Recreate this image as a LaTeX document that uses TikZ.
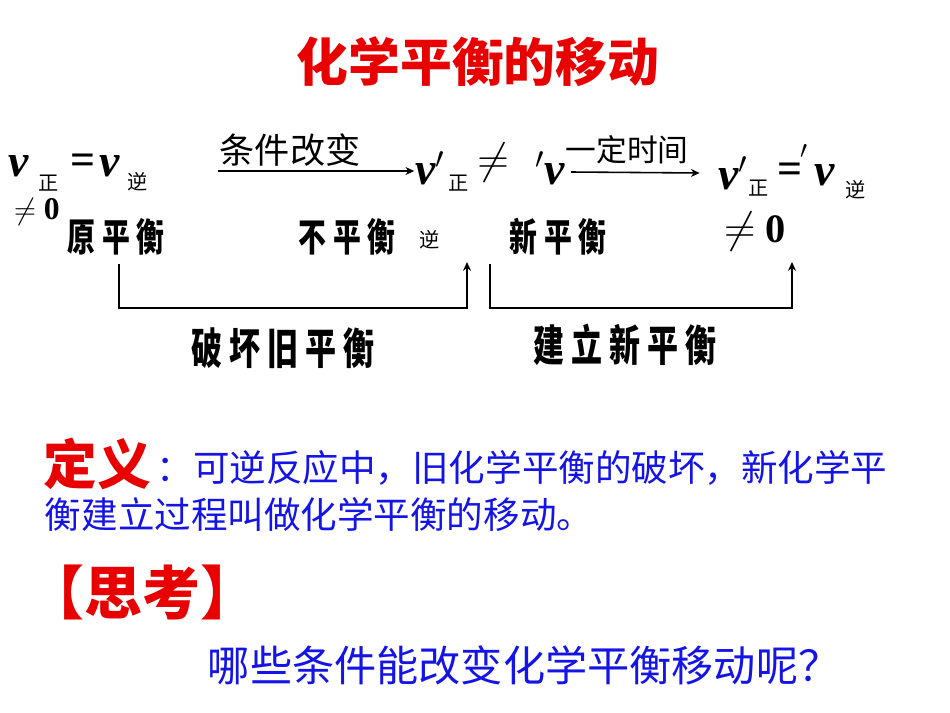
\documentclass[tikz,border=0pt]{standalone}
\usepackage{fontspec}
\setmainfont{Noto Sans CJK SC}
\newfontfamily\cjkn{Noto Sans CJK SC}[FakeStretch=0.72]
\newfontfamily\vfont{Liberation Serif}
\usetikzlibrary{arrows.meta, positioning}
\definecolor{cred}{HTML}{E80000}
\definecolor{cblue}{HTML}{1414E6}
\tikzset{
  every picture/.style={line width=1.1pt},
  title/.style={font=\fontsize{29.5}{32}\selectfont\bfseries, text=cred},
  vsym/.style={font=\vfont\fontsize{26}{28}\selectfont\bfseries\itshape, inner sep=0pt},
  sub/.style={font=\fontsize{11.5}{13}\selectfont, inner sep=0pt},
  rel/.style={font=\vfont\fontsize{18}{20}\selectfont\bfseries, inner sep=0pt},
  eqs/.style={font=\vfont\fontsize{25}{27}\selectfont\bfseries, inner sep=0pt},
  cond/.style={font=\fontsize{20}{22}\selectfont, inner sep=0pt},
  state/.style={font=\cjkn\fontsize{22}{24}\selectfont\bfseries, inner sep=0pt},
  phase/.style={font=\cjkn\fontsize{24.5}{26}\selectfont\bfseries, inner sep=0pt},
  defn/.style={font=\fontsize{20.8}{24}\selectfont, text=cblue, inner sep=0pt, anchor=west},
  arrow/.style={-{Stealth[length=5pt, width=4.5pt]}, line width=0.9pt},
  bracket/.style={-{Stealth[length=5pt, width=4.5pt]}, line width=1.2pt},
}

\begin{document}
\begin{tikzpicture}[x=0.02cm, y=-0.02cm]
  \useasboundingbox (0,0) rectangle (950,713);
  \node[title] (ttl) at (478,62) {化学平衡的移动};
  % first balance
  \node[vsym] (v1) at (19,166) {v};
  \node[sub] (z1) at (49,183) {正};
  \node[eqs] (eq1) at (83,164) {=};
  \node[vsym] (v2) at (110,166) {v};
  \node[sub] (n1) at (138,182) {逆};
  \node[rel] (ne1) at (37,212) {$\neq$ 0};
  \node[state] (old) at (116,237) {原 平 衡};
  % change of conditions
  \node[cond] (c1) at (290,150) {条件改变};
  \node[vsym] (v3) at (430,168) {v$'$};
  \node[sub] (z2) at (459,183) {正};
  \node[rel, font=\fontsize{26}{28}\selectfont] (ne2) at (493,163) {$\neq$};
  \node[vsym] (v4) at (550,168) {$'$v};
  \node[state] (mid) at (347,237) {不 平 衡};
  \node[sub] (n2) at (430,240) {逆};
  \coordinate (a1) at (218,171);
  \draw[arrow] (a1) -- (a1 -| v3.west);
  % new balance
  \node[cond, font=\fontsize{17.5}{20}\selectfont] (c2) at (627,150) {一定时间};
  \node[vsym] (v5) at (733,173) {v$'$};
  \node[sub] (z3) at (759,188) {正};
  \node[eqs] (eq3) at (790,173) {=};
  \node[rel, font=\fontsize{22}{24}\selectfont] (pr) at (804,158) {$'$};
  \node[vsym] (v6) at (825,175) {v};
  \node[sub] (n3) at (856,190) {逆};
  \node[rel, font=\vfont\fontsize{23}{25}\selectfont\bfseries] (ne3) at (755,232) {$\neq$ 0};
  \node[state] (new) at (558,237) {新 平 衡};
  \coordinate (a2) at (571,172);
  \draw[arrow] (a2) -- ([xshift=-10pt]v5.west);
  % brackets
  \coordinate (b1) at (119,264);
  \coordinate (m1) at (467,308);
  \coordinate (e1) at (467,262);
  \coordinate (b2) at (490,264);
  \coordinate (m2) at (792,308);
  \coordinate (e2) at (792,262);
  \draw[bracket] (b1) |- (m1) -- (e1);
  \draw[bracket] (b2) |- (m2) -- (e2);
  \node[phase] (brk) at (283,348) {破 坏 旧 平 衡};
  \node[phase] (bld) at (625,345) {建 立 新 平 衡};
  % definition
  \node[font=\fontsize{30.5}{32}\selectfont\bfseries, text=cred, anchor=west, inner sep=0pt] (def) at (43,464) {定义};
  \node[defn, right=2pt of def.east, yshift=-2pt] (l1) {：可逆反应中，旧化学平衡的破坏，新化学平};
  \node[defn] (l2) at (44,515) {衡建立过程叫做化学平衡的移动。};
  % question
  \node[font=\fontsize{33}{36}\selectfont\bfseries, text=cred, anchor=west, inner sep=0pt] (think) at (26,592) {【思考】};
  \node[defn, font=\fontsize{24}{26}\selectfont] (q) at (207,665) {哪些条件能改变化学平衡移动呢？};
\end{tikzpicture}
\end{document}
